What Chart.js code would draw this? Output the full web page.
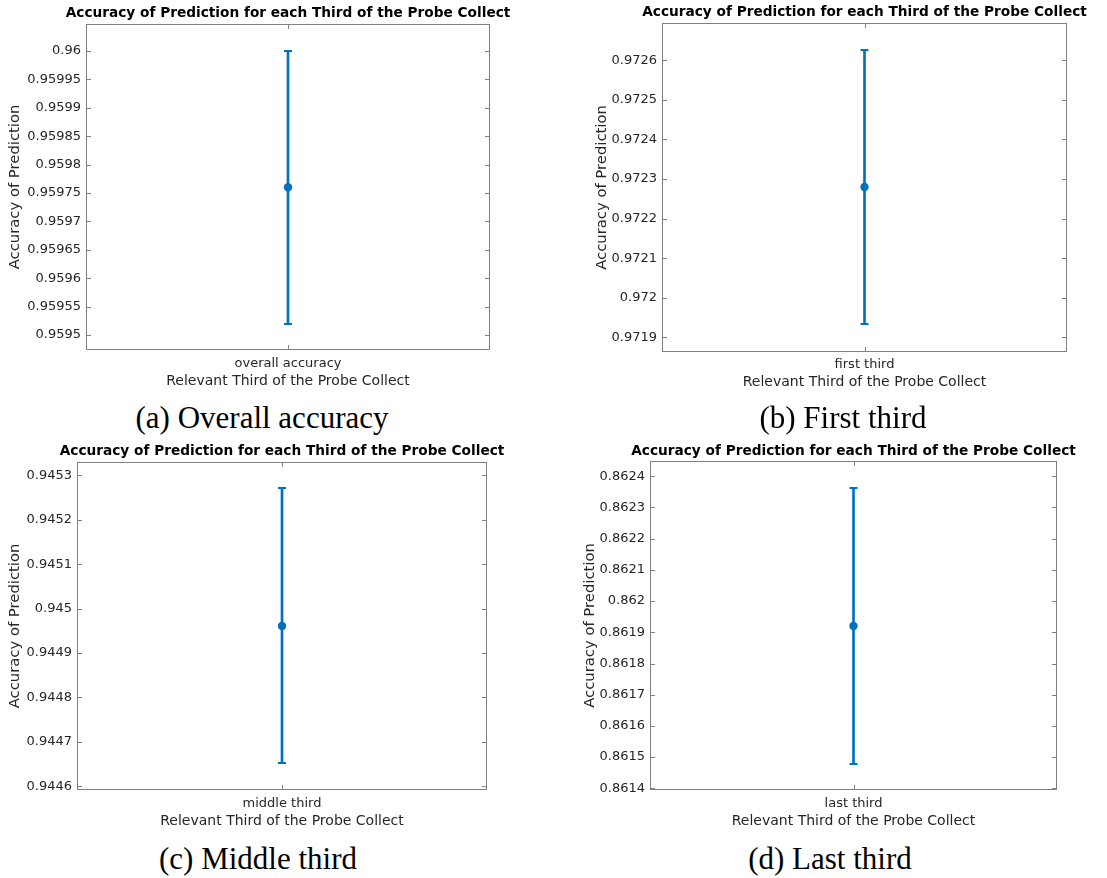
<!DOCTYPE html>
<html>
<head>
<meta charset="utf-8">
<script src="https://cdn.jsdelivr.net/npm/chart.js@4/dist/chart.umd.min.js"></script>
<style>
html,body{margin:0;padding:0;background:#fff;}
#wrap{position:relative;width:1107px;height:878px;overflow:hidden;background:#fff;}
#wrap canvas{position:absolute;}
.cap{position:absolute;width:400px;text-align:center;font-family:"Liberation Serif",serif;font-size:31px;line-height:31px;color:#000;white-space:nowrap;}
</style>
</head>
<body>
<div id="wrap">
  <canvas id="ca" width="576" height="400" style="left:0px;top:0px;width:576px;height:400px"></canvas>
  <canvas id="cb" width="589" height="400" style="left:570px;top:0px;width:589px;height:400px"></canvas>
  <canvas id="cc" width="564" height="400" style="left:0px;top:440px;width:564px;height:400px"></canvas>
  <canvas id="cd" width="567" height="400" style="left:570px;top:440px;width:567px;height:400px"></canvas>
  <div class="cap" id="capa" style="left:62px;top:402px"></div>
  <div class="cap" id="capb" style="left:643px;top:402px"></div>
  <div class="cap" id="capc" style="left:58px;top:843px"></div>
  <div class="cap" id="capd" style="left:630px;top:843px"></div>
</div>
<script>
// ---------------- data ----------------
const categories   = ['overall accuracy', 'first third', 'middle third', 'last third'];
const meanAccuracy = [0.95976, 0.97228, 0.944961, 0.86192];
const lowerBound   = [0.95952, 0.971933, 0.944652, 0.861479];
const upperBound   = [0.96000, 0.972626, 0.945271, 0.862361];
const captions     = ['(a) Overall accuracy', '(b) First third', '(c) Middle third', '(d) Last third'];
const chartTitle   = 'Accuracy of Prediction for each Third of the Probe Collect';
const xAxisTitle   = 'Relevant Third of the Probe Collect';
const yAxisTitle   = 'Accuracy of Prediction';
const yTickLabelsA = ['0.9595','0.95955','0.9596','0.95965','0.9597','0.95975','0.9598','0.95985','0.9599','0.95995','0.96'];
const yTickLabelsB = ['0.9719','0.972','0.9721','0.9722','0.9723','0.9724','0.9725','0.9726'];
const yTickLabelsC = ['0.9446','0.9447','0.9448','0.9449','0.945','0.9451','0.9452','0.9453'];
const yTickLabelsD = ['0.8614','0.8615','0.8616','0.8617','0.8618','0.8619','0.862','0.8621','0.8622','0.8623','0.8624'];
const yTickLabels  = [yTickLabelsA, yTickLabelsB, yTickLabelsC, yTickLabelsD];
const yAxisMin     = [0.9594736, 0.9718629, 0.9445917, 0.8613946];
const yAxisMax     = [0.9600475, 0.9726943, 0.9453300, 0.8624490];

// ---------------- layout / style ----------------
const BLUE = '#0072BD';
const AXIS_COLOR = '#808080';
const TEXT_COLOR = '#262626';
const panels = [
  {id:'ca', yW:86, xH:50, tPadT:5,   tPadB:2.56, yTitlePad:6.1,  xTitlePad:9.9,  xTickPad:6},
  {id:'cb', yW:92, xH:48, tPadT:4.5, tPadB:2.06, yTitlePad:22.8, xTitlePad:9.3,  xTickPad:5},
  {id:'cc', yW:77, xH:50, tPadT:3,   tPadB:2.56, yTitlePad:6.1,  xTitlePad:10.6, xTickPad:6},
  {id:'cd', yW:80, xH:50, tPadT:3,   tPadB:1.56, yTitlePad:11.1, xTitlePad:10.6, xTickPad:6}
];
['capa','capb','capc','capd'].forEach((id, i) => { document.getElementById(id).textContent = captions[i]; });

Chart.defaults.font.family = '"DejaVu Sans", sans-serif';

const errorCapPlugin = {
  id: 'errorCaps',
  afterDatasetsDraw(chart) {
    const ds = chart.data.datasets[1];
    const meta = chart.getDatasetMeta(1);
    const y = chart.scales.y, ctx = chart.ctx;
    ctx.save();
    ctx.strokeStyle = BLUE; ctx.lineWidth = 2;
    meta.data.forEach((bar, i) => {
      ds.data[i].forEach(v => {
        const py = Math.round(y.getPixelForValue(v));
        ctx.beginPath(); ctx.moveTo(bar.x - 4, py); ctx.lineTo(bar.x + 4, py); ctx.stroke();
      });
    });
    ctx.restore();
  }
};

const boxPlugin = {
  id: 'matlabBox',
  afterDraw(chart) {
    const {ctx, chartArea: {left, right, top, bottom}, scales: {x, y}} = chart;
    ctx.save();
    ctx.strokeStyle = AXIS_COLOR; ctx.lineWidth = 1;
    ctx.strokeRect(left + 0.5, top + 0.5, right - left - 1, bottom - top - 1);
    ctx.beginPath();
    y.ticks.forEach(t => {
      const py = Math.round(y.getPixelForValue(t.value)) + 0.5;
      ctx.moveTo(left, py); ctx.lineTo(left + 5, py);
      ctx.moveTo(right - 5, py); ctx.lineTo(right, py);
    });
    x.ticks.forEach((t, i) => {
      const px = Math.round(x.getPixelForTick(i)) + 0.5;
      ctx.moveTo(px, bottom); ctx.lineTo(px, bottom - 5);
      ctx.moveTo(px, top); ctx.lineTo(px, top + 5);
    });
    ctx.stroke();
    ctx.restore();
  }
};

panels.forEach((p, i) => {
  const tickValues = yTickLabels[i].map(s => parseFloat(s));
  new Chart(document.getElementById(p.id), {
    type: 'bar',
    data: {
      labels: [categories[i]],
      datasets: [
        {type: 'line', data: [meanAccuracy[i]], showLine: false, pointRadius: 4.2,
         pointBackgroundColor: BLUE, pointBorderColor: BLUE, pointBorderWidth: 0},
        {type: 'bar', data: [[lowerBound[i], upperBound[i]]], barThickness: 2,
         backgroundColor: BLUE, borderWidth: 0}
      ]
    },
    options: {
      responsive: false, animation: false, devicePixelRatio: 1,
      layout: {padding: 0},
      plugins: {
        legend: {display: false},
        tooltip: {enabled: false},
        title: {display: true, text: chartTitle, color: '#000', fullSize: true,
                font: {size: 13.7, weight: 'bold'}, padding: {top: p.tPadT, bottom: p.tPadB}}
      },
      scales: {
        x: {
          type: 'category', offset: true,
          grid: {display: false, drawTicks: false}, border: {display: false},
          ticks: {color: TEXT_COLOR, font: {size: 13}, padding: p.xTickPad, maxRotation: 0},
          title: {display: true, text: xAxisTitle, color: TEXT_COLOR, font: {size: 14},
                  padding: {top: 0, bottom: p.xTitlePad}},
          afterFit: s => { s.height = p.xH; }
        },
        y: {
          type: 'linear', position: 'left', min: yAxisMin[i], max: yAxisMax[i],
          grid: {display: false, drawTicks: false}, border: {display: false},
          ticks: {color: TEXT_COLOR, font: {size: 13}, padding: 5,
                  callback: (v, idx) => yTickLabels[i][idx]},
          afterBuildTicks: s => { s.ticks = tickValues.map(v => ({value: v})); },
          title: {display: true, text: yAxisTitle, color: TEXT_COLOR, font: {size: 14.8},
                  padding: {top: p.yTitlePad, bottom: 0}},
          afterFit: s => { s.width = p.yW; }
        },
        yRight: {
          type: 'linear', position: 'right', display: true, min: yAxisMin[i], max: yAxisMax[i],
          grid: {display: false, drawTicks: false}, border: {display: false},
          ticks: {display: false},
          afterFit: s => { s.width = p.yW; }
        }
      }
    },
    plugins: [errorCapPlugin, boxPlugin]
  });
});
</script>
</body>
</html>
